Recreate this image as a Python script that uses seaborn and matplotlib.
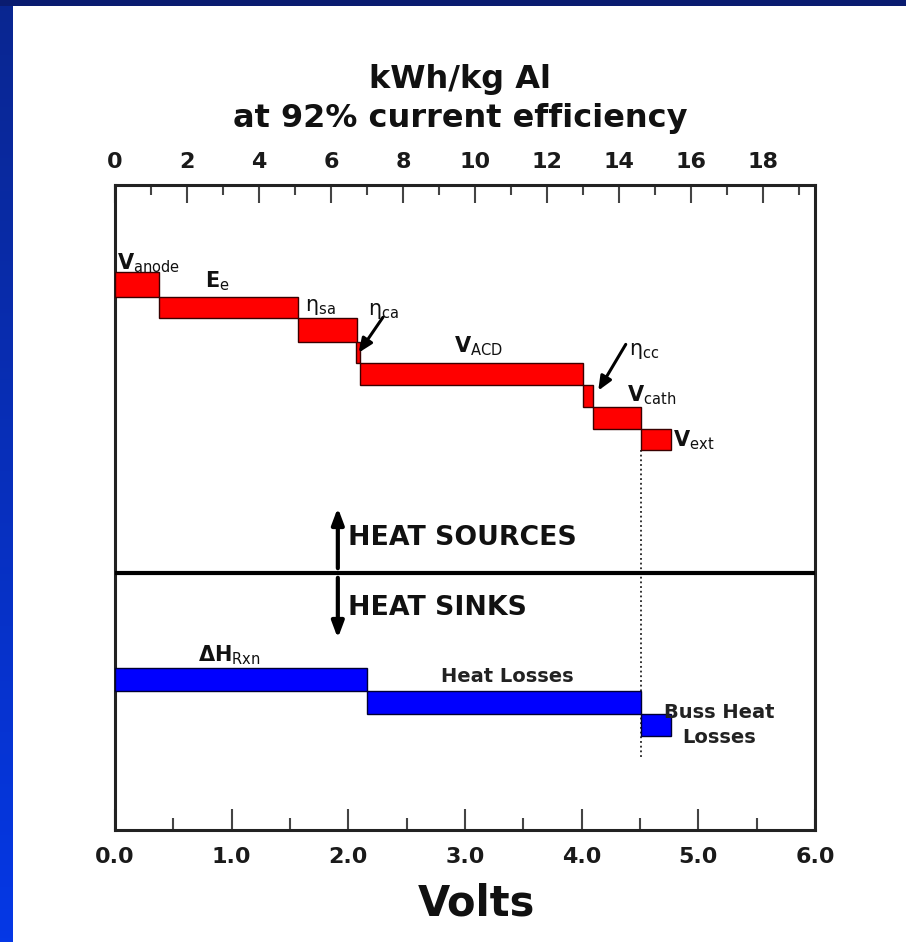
import numpy as np
import matplotlib
matplotlib.use("Agg")
import matplotlib.pyplot as plt
import seaborn as sns
from matplotlib.ticker import MultipleLocator

# heat sources (red staircase), x in volts, y as depth from the top of the plot
red_labels = [r"$\mathbf{V}_{\mathrm{anode}}$", r"$\mathbf{E}_{\mathrm{e}}$", r"$\mathrm{\eta}_{\mathrm{sa}}$",
              r"$\mathrm{\eta}_{\mathrm{ca}}$", r"$\mathbf{V}_{\mathrm{ACD}}$", r"$\mathrm{\eta}_{\mathrm{cc}}$",
              r"$\mathbf{V}_{\mathrm{cath}}$", r"$\mathbf{V}_{\mathrm{ext}}$"]
red_start = [0.00, 0.38, 1.57, 2.07, 2.10, 4.01, 4.10, 4.51]
red_width = [0.38, 1.19, 0.50, 0.03, 1.91, 0.09, 0.41, 0.26]
red_top = [87, 112, 133, 157, 178, 200, 222, 244]
red_height = [25, 21, 24, 21, 22, 22, 22, 21]

# heat sinks (blue staircase)
blue_labels = [r"$\mathbf{\Delta H}_{\mathrm{Rxn}}$", "Heat Losses", "Buss Heat\nLosses"]
blue_start = [0.00, 2.16, 4.51]
blue_width = [2.16, 2.35, 0.26]
blue_top = [483, 506, 529]
blue_height = [23, 23, 22]

divider_depth = 388
total_volts = 4.51
volt_to_kwh = 2.98 / 0.92

sns.set_theme(style="white")
plt.rcParams["font.family"] = ["DejaVu Sans"]
plt.rcParams["mathtext.fontset"] = "dejavusans"

fig = plt.figure(figsize=(9.06, 9.42), dpi=100)
fig.patch.set_facecolor("white")

# blue slide frame on the left and top
grad = np.linspace(0, 1, 256).reshape(-1, 1)
frame_l = fig.add_axes([0, 0, 13 / 906, 1])
frame_l.imshow(grad, aspect="auto", cmap=matplotlib.colors.LinearSegmentedColormap.from_list(
    "f", ["#0a2690", "#0538e6"]))
frame_l.axis("off")
frame_t = fig.add_axes([0, 1 - 6 / 942, 1, 6 / 942])
frame_t.set_facecolor("#0a1c70")
frame_t.set_xticks([]); frame_t.set_yticks([])
for s in frame_t.spines.values():
    s.set_visible(False)

ax = fig.add_axes([115 / 906, 1 - 830 / 942, 700 / 906, 645 / 942])
ax.set_xlim(0, 6)
ax.set_ylim(645, 0)
ax.set_facecolor("white")

ax.bar(red_start, red_height, width=red_width, bottom=red_top, align="edge",
       color="#ff0000", edgecolor="#3a0000", linewidth=1.0, zorder=3)
ax.bar(blue_start, blue_height, width=blue_width, bottom=blue_top, align="edge",
       color="#0000ff", edgecolor="#000033", linewidth=1.0, zorder=3)

sns.lineplot(x=[0, 6], y=[divider_depth, divider_depth], ax=ax, color="black",
             linewidth=3, zorder=4)
ax.plot([total_volts, total_volts], [red_top[-1] + red_height[-1], divider_depth + 185],
        color="#222222", linestyle=(0, (1, 1.6)), linewidth=1.3, zorder=2)

# staircase labels
lab_kw = dict(fontsize=15, color="#111111", zorder=5)
ax.text(0.02, 84, red_labels[0], ha="left", va="baseline", **lab_kw)
ax.text(0.77, 102, red_labels[1], ha="left", va="baseline", **lab_kw)
ax.text(1.63, 126, red_labels[2], ha="left", va="baseline", **lab_kw)
ax.text(2.17, 130, red_labels[3], ha="left", va="baseline", **lab_kw)
ax.text(2.91, 167, red_labels[4], ha="left", va="baseline", **lab_kw)
ax.text(4.41, 170, red_labels[5], ha="left", va="baseline", **lab_kw)
ax.text(4.39, 216, red_labels[6], ha="left", va="baseline", **lab_kw)
ax.text(4.78, 261, red_labels[7], ha="left", va="baseline", **lab_kw)

ax.text(0.71, 476, blue_labels[0], ha="left", va="baseline", **lab_kw)
ax.text(3.36, 492, blue_labels[1], ha="center", va="center", fontsize=14,
        fontweight="bold", color="#222222")
ax.text(5.18, 540, blue_labels[2], ha="center", va="center", fontsize=14,
        fontweight="bold", color="#222222", linespacing=1.45)

arrow_kw = dict(arrowstyle="-|>,head_length=0.7,head_width=0.3", color="black", lw=2.2)
ax.annotate("", xy=(2.075, 170), xytext=(2.31, 130), arrowprops=arrow_kw, zorder=6)
ax.annotate("", xy=(4.13, 208), xytext=(4.39, 157), arrowprops=arrow_kw, zorder=6)

# heat sources / sinks arrows
big_arrow = dict(arrowstyle="-|>,head_length=0.8,head_width=0.3", color="black", lw=3)
ax.annotate("", xy=(1.91, 320), xytext=(1.91, divider_depth - 2), arrowprops=big_arrow, zorder=6)
ax.annotate("", xy=(1.91, 456), xytext=(1.91, divider_depth + 2), arrowprops=big_arrow, zorder=6)
ax.text(2.0, 353, "HEAT SOURCES", ha="left", va="center", fontsize=19.3,
        fontweight="bold", color="#111111")
ax.text(2.0, 423, "HEAT SINKS", ha="left", va="center", fontsize=19.3,
        fontweight="bold", color="#111111")

# axes styling
for s in ax.spines.values():
    s.set_visible(True)
    s.set_color("#222222")
    s.set_linewidth(2.2)
ax.set_yticks([])
ax.xaxis.set_major_locator(MultipleLocator(1.0))
ax.xaxis.set_minor_locator(MultipleLocator(0.5))
ax.xaxis.set_major_formatter(matplotlib.ticker.FormatStrFormatter("%.1f"))
ax.tick_params(axis="x", which="major", direction="in", length=15, width=1.5,
               color="#444444", labelsize=16, labelcolor="#1a1a1a", pad=12, bottom=True)
ax.tick_params(axis="x", which="minor", direction="in", length=9, width=1.5,
               color="#444444", bottom=True)
for t in ax.get_xticklabels():
    t.set_fontweight("bold")
ax.set_xlabel("Volts", fontsize=30, fontweight="bold", color="#111111")
ax.xaxis.set_label_coords((476 - 115) / 700, -0.082)

top = ax.secondary_xaxis("top", functions=(lambda v: v * volt_to_kwh,
                                           lambda k: k / volt_to_kwh))
top.xaxis.set_major_locator(MultipleLocator(2))
top.xaxis.set_minor_locator(MultipleLocator(1))
top.tick_params(axis="x", which="major", direction="in", length=13, width=1.5,
                color="#444444", labelsize=16, labelcolor="#1a1a1a", pad=9)
top.tick_params(axis="x", which="minor", direction="in", length=7, width=1.5,
                color="#444444")
top.spines["top"].set_visible(False)
for t in top.get_xticklabels():
    t.set_fontweight("bold")

fig.text(460 / 906, 1 - 99 / 942, "kWh/kg Al\nat 92% current efficiency", ha="center",
         va="center", fontsize=23, fontweight="bold", linespacing=1.3, color="#111111")

fig.savefig("out.png", dpi=100, facecolor="white")
